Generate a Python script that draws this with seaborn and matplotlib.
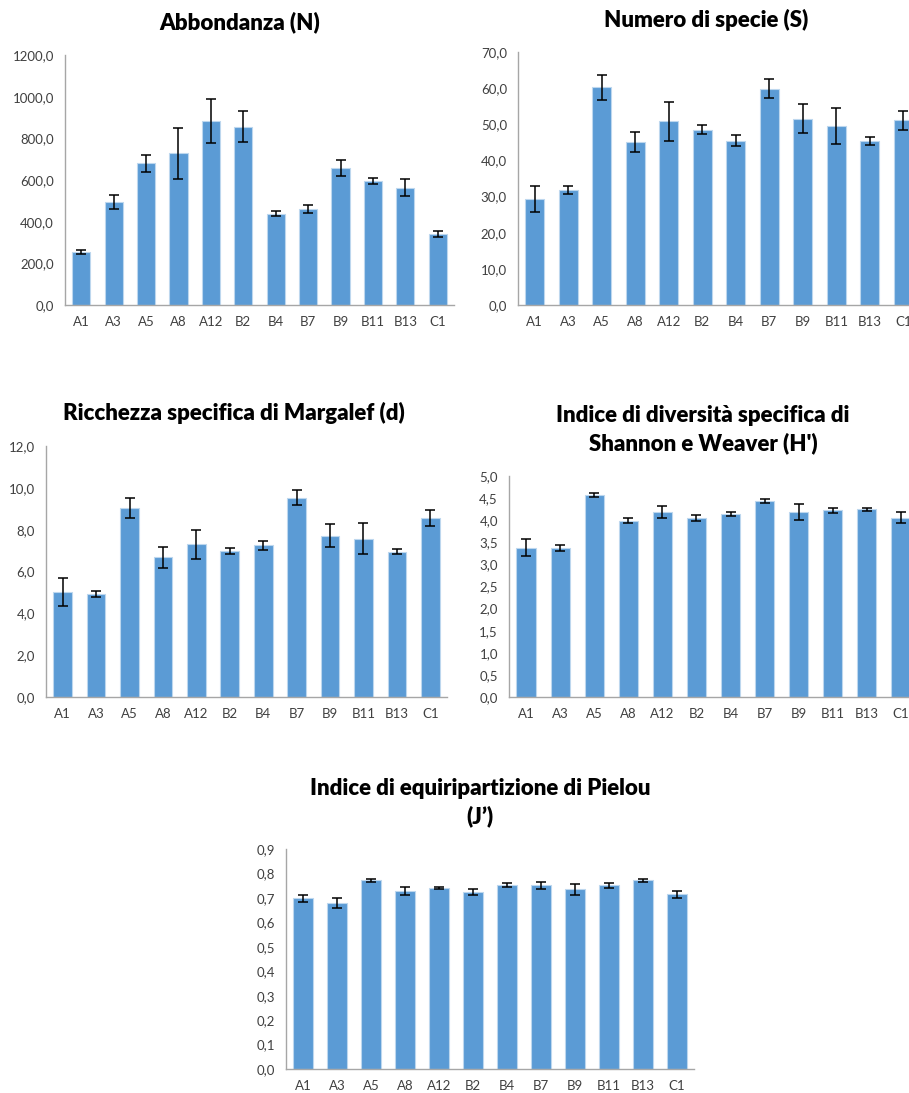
import numpy as np
import pandas as pd
import matplotlib
matplotlib.use('Agg')
import matplotlib.pyplot as plt
import seaborn as sns
from matplotlib.ticker import FuncFormatter, MultipleLocator

# Stations
stations = ['A1', 'A3', 'A5', 'A8', 'A12', 'B2', 'B4', 'B7', 'B9', 'B11', 'B13', 'C1']

# Abbondanza (N)
abund_mean = [256, 496, 680, 728, 883, 856, 438, 462, 658, 595, 563, 339]
abund_err = [10, 33, 40, 122, 104, 73, 11, 18, 40, 15, 42, 14]

# Numero di specie (S)
spec_mean = [29.2, 31.8, 60.2, 45.1, 50.8, 48.5, 45.5, 59.9, 51.5, 49.5, 45.5, 51.1]
spec_err = [3.6, 1.1, 3.5, 2.7, 5.5, 1.2, 1.5, 2.5, 4.0, 5.0, 1.1, 2.6]

# Margalef (d)
marg_mean = [5.02, 4.92, 9.04, 6.68, 7.30, 7.00, 7.25, 9.53, 7.71, 7.57, 6.95, 8.57]
marg_err = [0.68, 0.14, 0.48, 0.50, 0.69, 0.14, 0.22, 0.37, 0.54, 0.74, 0.11, 0.39]

# Shannon e Weaver (H')
shan_mean = [3.38, 3.38, 4.57, 3.99, 4.19, 4.05, 4.14, 4.43, 4.18, 4.22, 4.25, 4.06]
shan_err = [0.19, 0.07, 0.05, 0.06, 0.14, 0.065, 0.05, 0.045, 0.18, 0.055, 0.035, 0.13]

# Pielou (J')
piel_mean = [0.698, 0.679, 0.772, 0.727, 0.740, 0.724, 0.751, 0.751, 0.735, 0.751, 0.772, 0.715]
piel_err = [0.013, 0.021, 0.007, 0.016, 0.005, 0.014, 0.008, 0.013, 0.023, 0.010, 0.007, 0.014]

sns.set_style('white')
plt.rcParams['font.family'] = ['Lato', 'DejaVu Sans']

W, H = 909, 1093
fig = plt.figure(figsize=(W / 100, H / 100), dpi=100)
bar_color = '#5B9BD5'


def panel(rect_px, mean, err, ymax, step):
    left, top, width, bottom = rect_px
    ax = fig.add_axes([left / W, 1 - bottom / H, width / W, (bottom - top) / H])
    df = pd.DataFrame({'Stazione': stations, 'Valore': mean})
    sns.barplot(data=df, x='Stazione', y='Valore', color=bar_color, saturation=1,
                width=0.56, edgecolor='#BDD7EE', linewidth=0.8, ax=ax)
    ax.errorbar(np.arange(len(stations)), mean, yerr=err, fmt='none',
                ecolor='black', elinewidth=1.1, capsize=3.5, capthick=1.1)
    ax.set_xlim(-0.5, len(stations) - 0.5)
    ax.set_ylim(0, ymax)
    ax.yaxis.set_major_locator(MultipleLocator(step))
    ax.yaxis.set_major_formatter(FuncFormatter(lambda v, p: f'{v:.1f}'.replace('.', ',')))
    ax.set_xlabel('')
    ax.set_ylabel('')
    for s in ['top', 'right']:
        ax.spines[s].set_visible(False)
    for s in ['left', 'bottom']:
        ax.spines[s].set_color('#A6A6A6')
        ax.spines[s].set_linewidth(1.0)
    ax.tick_params(axis='both', length=0, labelsize=9.5, colors='#404040')
    ax.tick_params(axis='x', pad=8)
    ax.tick_params(axis='y', pad=8)
    return ax


panel((65, 55, 389, 305), abund_mean, abund_err, 1200, 200)
panel((518, 52, 402, 305), spec_mean, spec_err, 70, 10)
panel((46, 446, 401, 697), marg_mean, marg_err, 12, 2)
panel((509, 476, 409, 697), shan_mean, shan_err, 5, 0.5)
panel((286, 849, 408, 1069), piel_mean, piel_err, 0.9, 0.1)

title_kw = dict(ha='center', va='center', fontsize=16, fontweight='heavy', color='black')
fig.text(240 / W, 1 - 22 / H, 'Abbondanza (N)', **title_kw)
fig.text(706 / W, 1 - 20 / H, 'Numero di specie (S)', **title_kw)
fig.text(234 / W, 1 - 413 / H, 'Ricchezza specifica di Margalef (d)', **title_kw)
fig.text(703 / W, 1 - 430 / H, "Indice di diversità specifica di\nShannon e Weaver (H')",
         linespacing=1.35, **title_kw)
fig.text(480 / W, 1 - 803 / H, 'Indice di equiripartizione di Pielou\n(J\u2019)',
         linespacing=1.35, **title_kw)

fig.savefig('out.png', dpi=100)
